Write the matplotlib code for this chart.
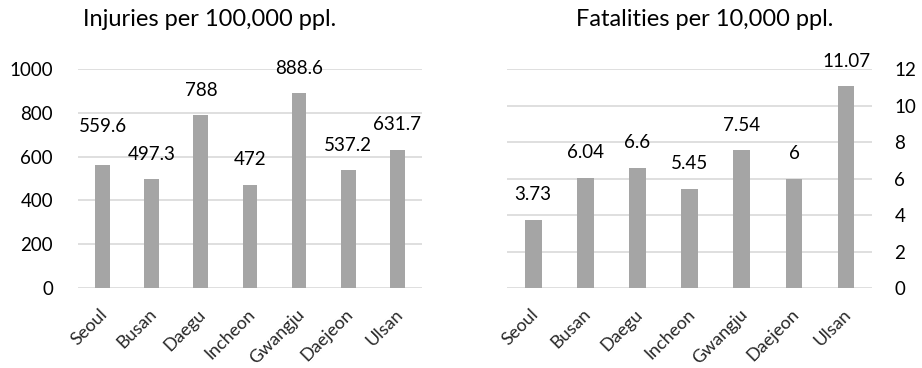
import matplotlib
matplotlib.use("Agg")
import matplotlib.pyplot as plt
from matplotlib.transforms import ScaledTranslation

cities = ["Seoul", "Busan", "Daegu", "Incheon", "Gwangju", "Daejeon", "Ulsan"]
injuries = [559.6, 497.3, 788, 472, 888.6, 537.2, 631.7]
injury_labels = ["559.6", "497.3", "788", "472", "888.6", "537.2", "631.7"]
fatalities = [3.73, 6.04, 6.6, 5.45, 7.54, 6, 11.07]
fatality_labels = ["3.73", "6.04", "6.6", "5.45", "7.54", "6", "11.07"]

injury_ticks = [0, 200, 400, 600, 800, 1000]
fatality_ticks = [0, 2, 4, 6, 8, 10, 12]

plt.rcParams["font.family"] = ["Lato", "DejaVu Sans"]

BAR = "#A5A5A5"
GRID = "#D9D9D9"
TXT = "#000000"

fig = plt.figure(figsize=(9.22, 3.68), dpi=100)
ax1 = fig.add_axes([0.0846, 0.2174, 0.373, 0.595])
ax2 = fig.add_axes([0.550, 0.2174, 0.396, 0.595])


def style(ax, ticks, ymax, side, pad):
    ax.set_xlim(-0.5, len(cities) - 0.5)
    ax.set_ylim(0, ymax)
    ax.set_yticks(ticks)
    ax.grid(axis="y", color=GRID, linewidth=1.2)
    ax.set_axisbelow(True)
    for s in ax.spines.values():
        s.set_visible(False)
    ax.tick_params(axis="both", length=0)
    ax.tick_params(axis="y", labelsize=13.5, pad=pad, labelcolor=TXT)
    if side == "right":
        ax.yaxis.tick_right()
    ax.set_xticks(range(len(cities)))
    ax.set_xticklabels(cities, rotation=45, ha="right", rotation_mode="anchor",
                       fontsize=13, color="#262626")
    ax.tick_params(axis="x", pad=13)
    shift = ScaledTranslation(-3 / 100, 0, fig.dpi_scale_trans)
    for lab in ax.get_xticklabels():
        lab.set_transform(lab.get_transform() + shift)


style(ax1, injury_ticks, 1000, "left", 18)
style(ax2, fatality_ticks, 12, "right", 16)

x = range(len(cities))
ax1.bar(x, injuries, width=0.3, color=BAR, zorder=2)
ax2.bar(x, fatalities, width=0.32, color=BAR, zorder=2)

# Value labels sit a fixed distance above each bar; the first injury label is lifted a bit more
inj_lift = [28, 18, 18, 18, 18, 18, 18]
for i, (v, t) in enumerate(zip(injuries, injury_labels)):
    ax1.annotate(t, (i, v), xytext=(0, inj_lift[i]), textcoords="offset points",
                 ha="center", va="center", fontsize=13.5, color=TXT)
for i, (v, t) in enumerate(zip(fatalities, fatality_labels)):
    ax2.annotate(t, (i, v), xytext=(0, 18), textcoords="offset points",
                 ha="center", va="center", fontsize=13.5, color=TXT)

fig.text(210 / 922, 1 - 20 / 368, "Injuries per 100,000 ppl.", ha="center", va="center",
         fontsize=17, color=TXT)
fig.text(705 / 922, 1 - 20 / 368, "Fatalities per 10,000 ppl.", ha="center", va="center",
         fontsize=17, color=TXT)

fig.savefig("out.png", dpi=100)
